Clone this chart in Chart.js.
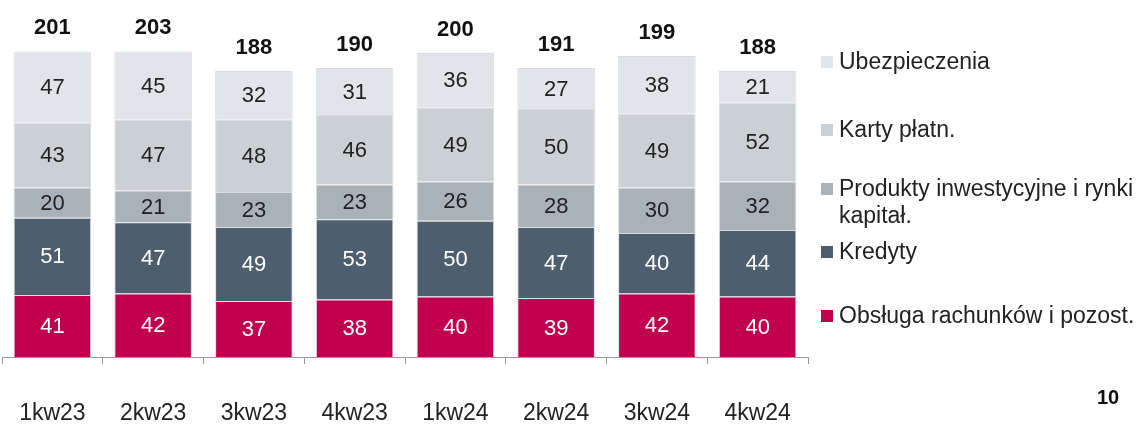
<!DOCTYPE html>
<html lang="pl">
<head>
    <meta charset="UTF-8">
    <title>Prowizje</title>
    <style>
        body { margin: 0; background: #fff; }
        #wrap { width: 1148px; height: 425px; position: relative; }
    </style>
</head>
<body>
    <div id="wrap"><canvas id="chartCanvas"></canvas></div>
    <script src="https://cdn.jsdelivr.net/npm/chart.js"></script>
    <script>
        const quarters = ['1kw23', '2kw23', '3kw23', '4kw23', '1kw24', '2kw24', '3kw24', '4kw24'];
        const obsluga = [41, 42, 37, 38, 40, 39, 42, 40];
        const kredyty = [51, 47, 49, 53, 50, 47, 40, 44];
        const produkty = [20, 21, 23, 23, 26, 28, 30, 32];
        const karty = [43, 47, 48, 46, 49, 50, 49, 52];
        const ubezp = [47, 45, 32, 31, 36, 27, 38, 21];
        const totals = [201, 203, 188, 190, 200, 191, 199, 188];

        const FONT = "'Liberation Sans', Arial, sans-serif";

        const datasets = [
            { label: 'Obsługa rachunków i pozost.', data: obsluga, backgroundColor: '#c0004f', textColor: '#ffffff' },
            { label: 'Kredyty', data: kredyty, backgroundColor: '#4d5e6e', textColor: '#ffffff' },
            { label: ['Produkty inwestycyjne i rynki', 'kapitał.'], data: produkty, backgroundColor: '#a9b1b9', textColor: '#222222' },
            { label: 'Karty płatn.', data: karty, backgroundColor: '#cbd0d5', textColor: '#222222' },
            { label: 'Ubezpieczenia', data: ubezp, backgroundColor: '#e1e4e8', textColor: '#222222' }
        ];

        // legend positions (top to bottom), y = text centre
        const legendY = [62, 130, 189, 252, 316];

        const labelsPlugin = {
            id: 'labels',
            afterDatasetsDraw(chart) {
                const ctx = chart.ctx;
                ctx.save();
                ctx.textAlign = 'center';
                ctx.textBaseline = 'middle';
                ctx.font = '22px ' + FONT;
                chart.data.datasets.forEach((ds, di) => {
                    const meta = chart.getDatasetMeta(di);
                    meta.data.forEach((bar, i) => {
                        ctx.fillStyle = ds.textColor;
                        ctx.fillText(ds.data[i], bar.x, (bar.y + bar.base) / 2 + 1);
                    });
                });
                // totals
                const topMeta = chart.getDatasetMeta(chart.data.datasets.length - 1);
                ctx.font = 'bold 22px ' + FONT;
                ctx.fillStyle = '#111111';
                topMeta.data.forEach((bar, i) => {
                    ctx.fillText(totals[i], bar.x, bar.y - 23);
                });
                // legend
                ctx.textAlign = 'left';
                ctx.font = '23px ' + FONT;
                const rev = chart.data.datasets.slice().reverse();
                rev.forEach((ds, k) => {
                    const y = legendY[k];
                    ctx.fillStyle = ds.backgroundColor;
                    ctx.fillRect(821, y - 6, 12, 12);
                    ctx.fillStyle = '#222222';
                    const lines = Array.isArray(ds.label) ? ds.label : [ds.label];
                    lines.forEach((t, j) => ctx.fillText(t, 839, y + 1 + j * 27));
                });
                // page number
                ctx.font = 'bold 20px ' + FONT;
                ctx.fillStyle = '#111111';
                ctx.textAlign = 'center';
                ctx.fillText('10', 1108, 398);
                ctx.restore();
            }
        };

        new Chart(document.getElementById('chartCanvas'), {
            type: 'bar',
            data: { labels: quarters, datasets },
            options: {
                responsive: true,
                maintainAspectRatio: false,
                animation: false,
                layout: { padding: { left: 2, right: 340, top: 0, bottom: 0 } },
                datasets: {
                    bar: {
                        barPercentage: 0.77,
                        categoryPercentage: 1,
                        borderWidth: 1,
                        borderColor: 'rgba(205,205,210,0.7)'
                    }
                },
                plugins: {
                    legend: { display: false },
                    tooltip: { enabled: false }
                },
                scales: {
                    x: {
                        stacked: true,
                        border: { display: true, color: '#9a9a9a', width: 1 },
                        grid: {
                            offset: true,
                            drawOnChartArea: false,
                            drawTicks: true,
                            tickLength: 7,
                            color: '#9a9a9a'
                        },
                        ticks: {
                            padding: 36,
                            maxRotation: 0,
                            color: '#222222',
                            font: { family: FONT, size: 23 }
                        },
                        afterFit(scale) {
                            scale.height = 68;
                            scale.paddingLeft = 0;
                            scale.paddingRight = 0;
                        }
                    },
                    y: {
                        stacked: true,
                        display: false,
                        min: 0,
                        max: 236
                    }
                }
            },
            plugins: [labelsPlugin]
        });
    </script>
</body>
</html>
